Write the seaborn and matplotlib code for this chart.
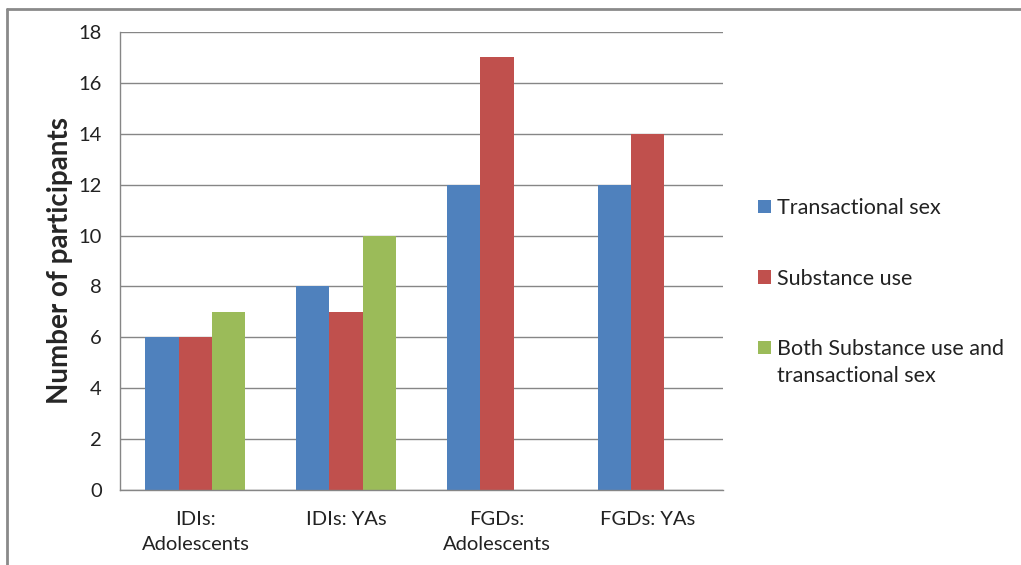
import matplotlib
matplotlib.use("Agg")
import matplotlib.pyplot as plt
import seaborn as sns
import pandas as pd
import numpy as np
from matplotlib.lines import Line2D
from matplotlib.patches import Patch, Rectangle
from matplotlib.legend_handler import HandlerPatch

categories = ["IDIs:\nAdolescents", "IDIs: YAs", "FGDs:\nAdolescents", "FGDs: YAs"]
series_names = ["Transactional sex", "Substance use", "Both Substance use and\ntransactional sex"]
transactional_sex = [6, 8, 12, 12]
substance_use = [6, 7, 17, 14]
both = [7, 10, np.nan, np.nan]
colors = ["#4F81BD", "#C0504D", "#9BBB59"]
yticks = list(range(0, 20, 2))

rows = []
for name, vals in zip(series_names, [transactional_sex, substance_use, both]):
    for c, v in zip(categories, vals):
        rows.append({"category": c, "series": name, "value": v})
df = pd.DataFrame(rows)

sns.set_style("white")
plt.rcParams["font.family"] = ["Lato", "DejaVu Sans"]

fig = plt.figure(figsize=(10.21, 5.65), dpi=100)
ax = fig.add_axes([120/1021, 1-490/565, (723-120)/1021, (490-32)/565])

sns.barplot(data=df, x="category", y="value", hue="series", order=categories,
            hue_order=series_names, palette=colors, width=0.663, ax=ax,
            linewidth=0, saturation=1, errorbar=None, legend=False)

ax.set_xlim(-0.5, 3.5)
ax.set_ylim(0, 18)
ax.set_yticks(yticks)
ax.set_yticklabels([str(t) for t in yticks], fontsize=14.5, color="#222222")
ax.yaxis.grid(True, color="#868686", linewidth=1)
ax.set_axisbelow(True)
ax.set_xticks([0, 1, 2, 3])
ax.set_xticklabels(categories, fontsize=14.5, color="#222222", linespacing=1.55)
ax.set_xticks([-0.5, 0.5, 1.5, 2.5, 3.5], minor=True)
ax.tick_params(axis="x", which="major", length=0, pad=15)
ax.tick_params(axis="x", which="minor", length=7, color="#868686", width=1, direction="out")
ax.tick_params(axis="y", length=5, color="#868686", width=1, direction="out", pad=8)
ax.set_xlabel("")
ax.set_ylabel("Number of participants", fontsize=20, fontweight="bold", labelpad=4)
for s in ["top", "right"]:
    ax.spines[s].set_visible(False)
for s in ["left", "bottom"]:
    ax.spines[s].set_color("#868686")
    ax.spines[s].set_linewidth(1)


def top_patch(legend, orig_handle, xdescent, ydescent, width, height, fontsize):
    return Rectangle((-xdescent, -ydescent + 0.5 * fontsize * 1.45), width, height)


handles = [Patch(facecolor=c, edgecolor="none") for c in colors]
fig.legend(handles, series_names, loc="upper left", bbox_to_anchor=(758/1021, 1-198/565),
           frameon=False, fontsize=15.5, handlelength=0.6, handleheight=0.6,
           handletextpad=0.3, labelspacing=2.35, borderpad=0, borderaxespad=0,
           handler_map={handles[2]: HandlerPatch(patch_func=top_patch)})
for t in fig.legends[0].get_texts():
    t.set_linespacing(1.45)
    t.set_color("#222222")

fig.add_artist(Line2D([6.5/1021, 6.5/1021], [0, 1-8.5/565], transform=fig.transFigure,
                      color="#8a8a8a", linewidth=2))
fig.add_artist(Line2D([6.5/1021, 1], [1-8.5/565, 1-8.5/565], transform=fig.transFigure,
                      color="#8a8a8a", linewidth=2))

fig.savefig("out.png", dpi=100)
